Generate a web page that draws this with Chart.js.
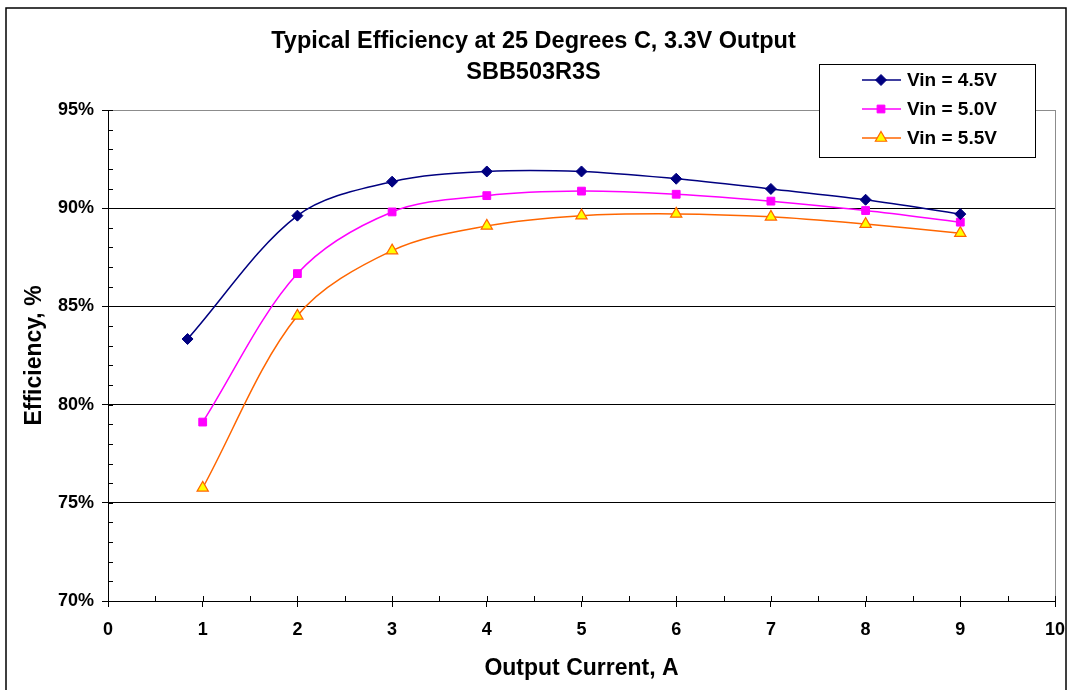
<!DOCTYPE html>
<html>
<head>
<meta charset="utf-8">
<title>Typical Efficiency at 25 Degrees C, 3.3V Output</title>
<script src="https://cdn.jsdelivr.net/npm/chart.js@4.4.1/dist/chart.umd.min.js"></script>
<style>
  body { margin: 0; background: #fff; }
</style>
</head>
<body>
<canvas id="chart" width="1071" height="690"></canvas>
<script>
const titleLines = ["Typical Efficiency at 25 Degrees C, 3.3V Output", "SBB503R3S"];
const seriesNames = ["Vin = 4.5V", "Vin = 5.0V", "Vin = 5.5V"];

// output current (A) and efficiency (%)
const current45 = [0.84, 2, 3, 4, 5, 6, 7, 8, 9];
const eff45 = [83.34, 89.62, 91.35, 91.87, 91.87, 91.5, 90.98, 90.43, 89.7];
const current50 = [1, 2, 3, 4, 5, 6, 7, 8, 9];
const eff50 = [79.11, 86.67, 89.81, 90.64, 90.87, 90.71, 90.36, 89.88, 89.29];
const current55 = [1, 2, 3, 4, 5, 6, 7, 8, 9];
const eff55 = [75.76, 84.52, 87.84, 89.1, 89.62, 89.71, 89.56, 89.19, 88.73];

const xMin = 0, xMax = 10, xStep = 0.5;
const yMin = 70, yMax = 95, yStep = 1, yLabelStep = 5;

const FONT = "'Liberation Sans', Arial, sans-serif";
Chart.defaults.color = '#000';
Chart.defaults.font.family = FONT;

function pts(xs, ys) {
    return xs.map((x, i) => ({ x: x, y: ys[i] }));
}

// white page + outer frame
const frame = {
    id: 'frame',
    beforeDraw(chart) {
        const ctx = chart.ctx;
        ctx.save();
        ctx.fillStyle = '#fff';
        ctx.fillRect(0, 0, chart.width, chart.height);
        ctx.strokeStyle = '#000';
        ctx.lineWidth = 1.5;
        ctx.strokeRect(6, 8, 1060, 700);
        ctx.restore();
    }
};

// short tick marks pointing into the plot, like excel's minor ticks
const innerTicks = {
    id: 'innerTicks',
    beforeDatasetsDraw(chart) {
        const ctx = chart.ctx;
        const x = chart.scales.x, y = chart.scales.y;
        const area = chart.chartArea;
        ctx.save();
        ctx.strokeStyle = '#000';
        ctx.lineWidth = 1;
        ctx.beginPath();
        y.ticks.forEach(t => {
            const py = Math.round(y.getPixelForValue(t.value)) + 0.5;
            ctx.moveTo(area.left, py);
            ctx.lineTo(area.left + 5, py);
        });
        x.ticks.forEach(t => {
            const px = Math.round(x.getPixelForValue(t.value)) + 0.5;
            ctx.moveTo(px, area.bottom);
            ctx.lineTo(px, area.bottom - 5);
        });
        ctx.stroke();
        ctx.restore();
    }
};

const boxLegend = {
    id: 'boxLegend',
    afterDraw(chart) {
        const ctx = chart.ctx;
        ctx.save();
        ctx.fillStyle = '#fff';
        ctx.strokeStyle = '#000';
        ctx.lineWidth = 1;
        ctx.fillRect(819.5, 64.5, 216, 93);
        ctx.strokeRect(819.5, 64.5, 216, 93);
        chart.data.datasets.forEach((ds, i) => {
            const y = 80 + i * 29;
            ctx.strokeStyle = ds.borderColor;
            ctx.lineWidth = ds.borderWidth;
            ctx.beginPath();
            ctx.moveTo(862, y);
            ctx.lineTo(901, y);
            ctx.stroke();
            ctx.fillStyle = ds.pointBackgroundColor;
            ctx.strokeStyle = ds.pointBorderColor;
            ctx.lineWidth = ds.pointBorderWidth;
            Chart.helpers.drawPoint(ctx, {
                pointStyle: ds.pointStyle,
                radius: ds.pointRadius,
                rotation: 0,
                borderWidth: ds.pointBorderWidth
            }, 881, y);
            ctx.fillStyle = '#000';
            ctx.font = 'bold 19px ' + FONT;
            ctx.textBaseline = 'middle';
            ctx.textAlign = 'left';
            ctx.fillText(ds.label, 907, y + 1);
        });
        ctx.restore();
    }
};

const chart = new Chart(document.getElementById('chart'), {
    type: 'line',
    data: {
        datasets: [
            {
                label: seriesNames[0],
                data: pts(current45, eff45),
                borderColor: '#000080',
                borderWidth: 1.5,
                pointStyle: 'rectRot',
                pointRadius: 5.5,
                pointBackgroundColor: '#000080',
                pointBorderColor: '#000080',
                pointBorderWidth: 1,
                tension: 0.33
            },
            {
                label: seriesNames[1],
                data: pts(current50, eff50),
                borderColor: '#ff00ff',
                borderWidth: 1.5,
                pointStyle: 'rect',
                pointRadius: 5.5,
                pointBackgroundColor: '#ff00ff',
                pointBorderColor: '#ff00ff',
                pointBorderWidth: 1,
                tension: 0.33
            },
            {
                label: seriesNames[2],
                data: pts(current55, eff55),
                borderColor: '#ff6600',
                borderWidth: 1.5,
                pointStyle: 'triangle',
                pointRadius: 6.5,
                pointBackgroundColor: '#ffff00',
                pointBorderColor: '#ff6600',
                pointBorderWidth: 1.2,
                tension: 0.33
            }
        ]
    },
    options: {
        responsive: false,
        animation: false,
        layout: { padding: { left: 0, right: 4, top: 0, bottom: 0 } },
        plugins: {
            legend: { display: false },
            tooltip: { enabled: false },
            title: {
                display: true,
                text: titleLines,
                color: '#000',
                font: { size: 23.5, weight: 'bold', lineHeight: 31 / 23.5 },
                padding: { top: 26.5, bottom: 21.5 }
            }
        },
        scales: {
            x: {
                type: 'linear',
                min: xMin,
                max: xMax,
                afterFit(scale) {
                    scale.height = 89;
                    scale.paddingRight = 16;
                },
                ticks: {
                    stepSize: xStep,
                    autoSkip: false,
                    maxRotation: 0,
                    padding: 12,
                    font: { size: 18, weight: 'bold' },
                    callback: v => Number.isInteger(v) ? String(v) : ''
                },
                grid: {
                    drawOnChartArea: true,
                    tickLength: 6,
                    color: ctx => ctx.tick && ctx.tick.value === xMax ? '#8c8c8c' : 'rgba(0,0,0,0)',
                    tickColor: ctx => ctx.tick && Number.isInteger(ctx.tick.value) ? '#000' : 'rgba(0,0,0,0)'
                },
                border: { color: '#000', width: 1 },
                title: {
                    display: true,
                    text: 'Output Current, A',
                    font: { size: 23, weight: 'bold', lineHeight: 1.2 },
                    padding: { top: 0, bottom: 8 }
                }
            },
            y: {
                min: yMin,
                max: yMax,
                afterFit(scale) { scale.width = 108; },
                ticks: {
                    stepSize: yStep,
                    autoSkip: false,
                    padding: 8,
                    font: { size: 18, weight: 'bold' },
                    callback: v => v % yLabelStep === 0 ? v + '%' : ''
                },
                grid: {
                    tickLength: 6,
                    color: ctx => {
                        const v = ctx.tick ? ctx.tick.value : 0;
                        if (v === yMax) return '#8c8c8c';
                        return v % yLabelStep === 0 ? '#000' : 'rgba(0,0,0,0)';
                    },
                    tickColor: ctx => ctx.tick && ctx.tick.value % yLabelStep === 0 ? '#000' : 'rgba(0,0,0,0)'
                },
                border: { color: '#000', width: 1 },
                title: {
                    display: true,
                    text: 'Efficiency, %',
                    font: { size: 23, weight: 'bold', lineHeight: 1.2 },
                    padding: { top: 21, bottom: 0 }
                }
            }
        }
    },
    plugins: [frame, innerTicks, boxLegend]
});
</script>
</body>
</html>
